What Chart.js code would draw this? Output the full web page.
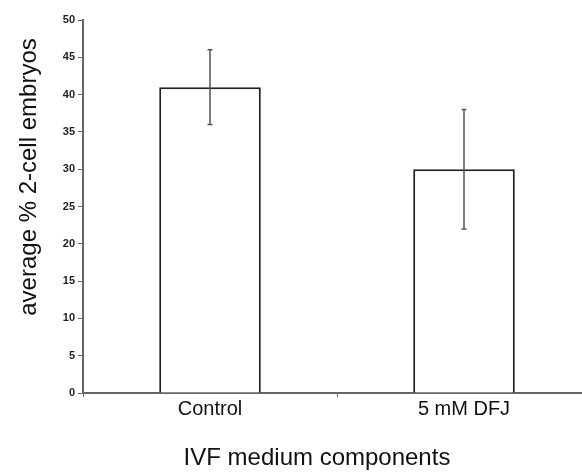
<!DOCTYPE html>
<html>
<head>
<meta charset="utf-8">
<script src="https://cdn.jsdelivr.net/npm/chart.js@4"></script>
<style>
  html, body { margin: 0; padding: 0; background: #fff; overflow: hidden; }
  #wrap { width: 600px; height: 474px; }
</style>
</head>
<body>
<div id="wrap"><canvas id="chart" width="600" height="474"></canvas></div>
<script>
// data
const categories = ['Control', '5 mM DFJ'];
const means = [41, 30];
const errors = [5, 8];
const yTicks = [0, 5, 10, 15, 20, 25, 30, 35, 40, 45, 50];

const xTitle = 'IVF medium components';
const yTitle = 'average % 2-cell embryos';

// error bars + axis titles drawn after the bars
const extras = {
    id: 'extras',
    afterDatasetsDraw(chart) {
        const ctx = chart.ctx;
        const y = chart.scales.y;
        const bars = chart.getDatasetMeta(0).data;
        ctx.save();
        ctx.strokeStyle = '#555';
        ctx.lineWidth = 1.5;
        bars.forEach((bar, i) => {
            const top = y.getPixelForValue(means[i] + errors[i]);
            const bot = y.getPixelForValue(means[i] - errors[i]);
            ctx.beginPath();
            ctx.moveTo(bar.x, top);
            ctx.lineTo(bar.x, bot);
            ctx.moveTo(bar.x - 2.5, top);
            ctx.lineTo(bar.x + 2.5, top);
            ctx.moveTo(bar.x - 2.5, bot);
            ctx.lineTo(bar.x + 2.5, bot);
            ctx.stroke();
        });
        ctx.restore();
    },
    afterDraw(chart) {
        const ctx = chart.ctx;
        ctx.save();
        ctx.fillStyle = '#111';
        ctx.font = '24px Arial, "Liberation Sans", sans-serif';
        ctx.textAlign = 'center';
        ctx.textBaseline = 'middle';
        ctx.fillText(xTitle, 317, 458);
        ctx.translate(29, 177);
        ctx.rotate(-Math.PI / 2);
        ctx.fillText(yTitle, 0, 0);
        ctx.restore();
    }
};

const ctx = document.getElementById('chart').getContext('2d');
new Chart(ctx, {
    type: 'bar',
    data: {
        labels: categories,
        datasets: [{
            data: means,
            backgroundColor: '#fff',
            borderColor: '#222',
            borderWidth: 2,
            barPercentage: 0.4,
            categoryPercentage: 1
        }]
    },
    options: {
        responsive: false,
        animation: false,
        layout: { padding: { top: 20, right: 9, left: 0, bottom: 0 } },
        plugins: {
            legend: { display: false },
            tooltip: { enabled: false }
        },
        scales: {
            x: {
                afterFit(scale) { scale.height = 81; },
                border: { display: true, color: '#666', width: 2 },
                grid: {
                    offset: true,
                    drawOnChartArea: false,
                    drawTicks: true,
                    tickLength: 4,
                    color: '#666'
                },
                ticks: {
                    color: '#111',
                    padding: 0,
                    font: { family: 'Arial, "Liberation Sans", sans-serif', size: 20 }
                }
            },
            y: {
                min: 0,
                max: 50,
                afterFit(scale) { scale.width = 83; },
                afterBuildTicks(scale) { scale.ticks = yTicks.map(v => ({ value: v })); },
                border: { display: true, color: '#666', width: 2 },
                grid: {
                    drawOnChartArea: false,
                    drawTicks: true,
                    tickLength: 5,
                    color: '#666'
                },
                ticks: {
                    color: '#222',
                    padding: 3,
                    font: { family: 'Arial, "Liberation Sans", sans-serif', size: 11, weight: 'bold' }
                }
            }
        }
    },
    plugins: [extras]
});
</script>
</body>
</html>
